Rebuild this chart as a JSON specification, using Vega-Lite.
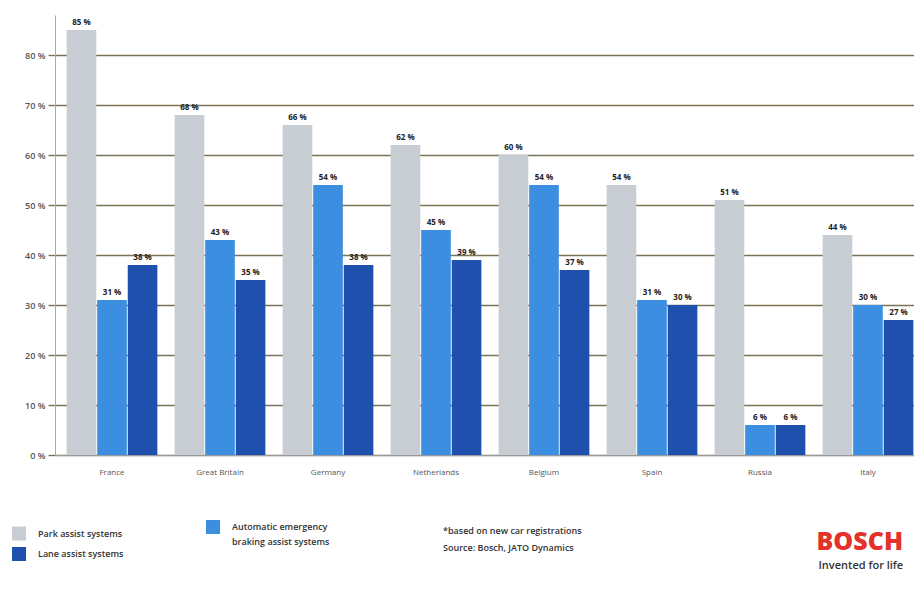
{
  "$schema": "https://vega.github.io/schema/vega-lite/v6.json",
  "autosize": {"type": "none"},
  "padding": {"left": 55, "top": 15, "right": 0, "bottom": 153},
  "width": 859,
  "height": 440,
  "background": "white",
  "config": {
    "view": {"stroke": null},
    "font": "Open Sans",
    "style": {"guide-label": {"lineHeight": 15}}
  },
  "title": {
    "text": ["*based on new car registrations", "Source: Bosch, JATO Dynamics"],
    "orient": "bottom",
    "anchor": "start",
    "frame": "group",
    "dx": 388,
    "offset": 0,
    "dy": -43,
    "fontSize": 9,
    "fontWeight": 600,
    "color": "#333333",
    "lineHeight": 17,
    "baseline": "top"
  },
  "data": {
    "values": [
      {"country": "France", "system": "Park assist systems", "value": 85},
      {"country": "France", "system": "Automatic emergency braking assist systems", "value": 31},
      {"country": "France", "system": "Lane assist systems", "value": 38},
      {"country": "Great Britain", "system": "Park assist systems", "value": 68},
      {"country": "Great Britain", "system": "Automatic emergency braking assist systems", "value": 43},
      {"country": "Great Britain", "system": "Lane assist systems", "value": 35},
      {"country": "Germany", "system": "Park assist systems", "value": 66},
      {"country": "Germany", "system": "Automatic emergency braking assist systems", "value": 54},
      {"country": "Germany", "system": "Lane assist systems", "value": 38},
      {"country": "Netherlands", "system": "Park assist systems", "value": 62},
      {"country": "Netherlands", "system": "Automatic emergency braking assist systems", "value": 45},
      {"country": "Netherlands", "system": "Lane assist systems", "value": 39},
      {"country": "Belgium", "system": "Park assist systems", "value": 60},
      {"country": "Belgium", "system": "Automatic emergency braking assist systems", "value": 54},
      {"country": "Belgium", "system": "Lane assist systems", "value": 37},
      {"country": "Spain", "system": "Park assist systems", "value": 54},
      {"country": "Spain", "system": "Automatic emergency braking assist systems", "value": 31},
      {"country": "Spain", "system": "Lane assist systems", "value": 30},
      {"country": "Russia", "system": "Park assist systems", "value": 51},
      {"country": "Russia", "system": "Automatic emergency braking assist systems", "value": 6},
      {"country": "Russia", "system": "Lane assist systems", "value": 6},
      {"country": "Italy", "system": "Park assist systems", "value": 44},
      {"country": "Italy", "system": "Automatic emergency braking assist systems", "value": 30},
      {"country": "Italy", "system": "Lane assist systems", "value": 27}
    ]
  },
  "transform": [
    {"calculate": "datum.value + ' %'", "as": "label"}
  ],
  "encoding": {
    "x": {
      "field": "country",
      "type": "nominal",
      "sort": null,
      "scale": {"range": [0, 870], "paddingInner": 0.16, "paddingOuter": 0.108},
      "axis": {
        "title": "BOSCH",
        "titleX": 761,
        "titleY": 94,
        "titleAlign": "left",
        "titleBaseline": "alphabetic",
        "titleFontSize": 25,
        "titleFontWeight": 800,
        "titleColor": "#e3312c",
        "titleFont": "Open Sans",
        "labelAngle": 0,
        "labelFontSize": 8,
        "labelColor": "#555555",
        "labelPadding": 13,
        "ticks": false,
        "domainColor": "#999999",
        "grid": false
      }
    },
    "xOffset": {
      "field": "system",
      "type": "nominal",
      "sort": ["Park assist systems", "Automatic emergency braking assist systems", "Lane assist systems"],
      "scale": {"paddingInner": 0.03}
    },
    "y": {
      "field": "value",
      "type": "quantitative",
      "scale": {"domain": [0, 88], "nice": false},
      "axis": {
        "values": [0, 10, 20, 30, 40, 50, 60, 70, 80],
        "labelExpr": "datum.value + ' %'",
        "labelFontSize": 9,
        "labelFontWeight": 600,
        "labelColor": "#555555",
        "labelPadding": 3,
        "tickSize": 7,
        "tickColor": "#7a7355",
        "tickWidth": 1.4,
        "gridColor": "#7a7355",
        "gridWidth": 1.4,
        "domainColor": "#aaaaaa",
        "title": "Invented for life",
        "titleAngle": 0,
        "titleX": 763,
        "titleY": 553,
        "titleAlign": "left",
        "titleBaseline": "alphabetic",
        "titleFontSize": 11,
        "titleFontWeight": 600,
        "titleColor": "#333333"
      }
    }
  },
  "layer": [
    {
      "mark": {"type": "bar"},
      "encoding": {
        "color": {
          "field": "system",
          "type": "nominal",
          "sort": ["Park assist systems", "Automatic emergency braking assist systems", "Lane assist systems"],
          "scale": {
            "domain": ["Park assist systems", "Automatic emergency braking assist systems", "Lane assist systems"],
            "range": ["#c8ccd3", "#3b8ee0", "#1f50ad"]
          },
          "legend": {
            "title": null,
            "orient": "none",
            "legendX": -43,
            "legendY": 505,
            "direction": "horizontal",
            "columns": 2,
            "columnPadding": 82,
            "rowPadding": -4,
            "symbolType": "square",
            "symbolSize": 196,
            "symbolStrokeWidth": 0,
            "labelFontSize": 9,
            "labelFontWeight": 600,
            "labelColor": "#333333",
            "labelOffset": 12,
            "labelLimit": 300,
            "labelExpr": "datum.label == 'Automatic emergency braking assist systems' ? ['Automatic emergency', 'braking assist systems'] : datum.label"
          }
        }
      }
    },
    {
      "mark": {"type": "text", "dy": -7, "fontSize": 8, "fontWeight": "bold", "color": "#222222"},
      "encoding": {
        "text": {"field": "label", "type": "nominal"},
        "detail": {"field": "system"}
      }
    }
  ]
}
